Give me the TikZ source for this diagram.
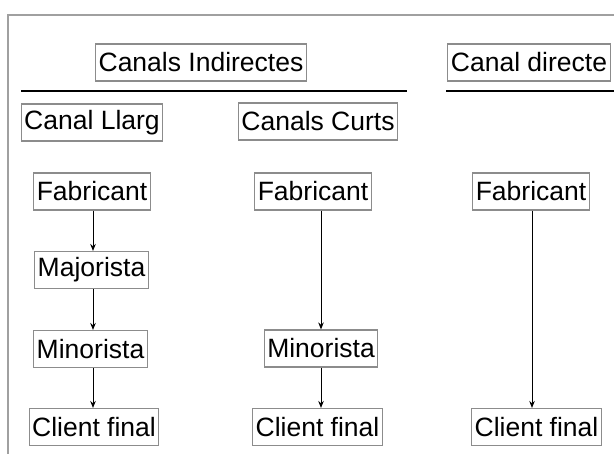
\documentclass[tikz,border=0pt]{standalone}
\usepackage{fontspec}
\setmainfont{Liberation Sans}
\usetikzlibrary{arrows.meta}
\definecolor{boxgray}{RGB}{140,140,140}
\definecolor{framegray}{RGB}{160,160,160}
\tikzset{
  lbl/.style={draw=boxgray, line width=1.1bp, inner xsep=3bp, inner ysep=0bp,
    minimum height=37bp, font=\fontsize{26.5bp}{30bp}\selectfont, text=black},
  arr/.style={line width=1bp, -{Stealth[length=7bp,width=5.5bp]}},
  sep/.style={line width=1.3bp, black},
  frame/.style={line width=1.5bp, framegray}
}
\begin{document}
\begin{tikzpicture}[x=1bp,y=-1bp]
\useasboundingbox (0,0) rectangle (614,454);
% partial frame
\coordinate (ftl) at (8,15);
\coordinate (ftr) at (614,15);
\coordinate (fbl) at (8,454);
\draw[frame] (fbl) -- (ftl) -- (ftr);
% headers
\node[lbl] (ind) at (201,62.5) {Canals Indirectes};
\node[lbl] (dir) at (529,62.5) {Canal directe};
\coordinate (s1a) at (21,91);
\coordinate (s1b) at (407,91);
\coordinate (s2a) at (446,91);
\coordinate (s2b) at (614,91);
\draw[sep] (s1a) -- (s1b);
\draw[sep] (s2a) -- (s2b);
\node[lbl] (llarg) at (92,122.5) {Canal Llarg};
\node[lbl] (curts) at (318,121.5) {Canals Curts};
% left column
\node[lbl] (fabL) at (92,191.5) {Fabricant};
\node[lbl] (majL) at (91.5,270) {Majorista};
\node[lbl] (minL) at (90.5,349) {Minorista};
\node[lbl] (cliL) at (94,427) {Client final};
\coordinate (axL) at (93,0);
\draw[arr] (fabL.south -| axL) -- (majL.north -| axL);
\draw[arr] (majL.south -| axL) -- (minL.north -| axL);
\draw[arr] (minL.south -| axL) -- (cliL.north -| axL);
% middle column
\node[lbl] (fabM) at (313,191.5) {Fabricant};
\node[lbl] (minM) at (321,348.5) {Minorista};
\node[lbl] (cliM) at (317.5,427) {Client final};
\coordinate (axM) at (321,0);
\draw[arr] (fabM.south -| axM) -- (minM.north -| axM);
\draw[arr] (minM.south -| axM) -- (cliM.north -| axM);
% right column
\node[lbl] (fabR) at (531,191.5) {Fabricant};
\node[lbl] (cliR) at (536.5,427) {Client final};
\coordinate (axR) at (532,0);
\draw[arr] (fabR.south -| axR) -- (cliR.north -| axR);
\end{tikzpicture}
\end{document}
